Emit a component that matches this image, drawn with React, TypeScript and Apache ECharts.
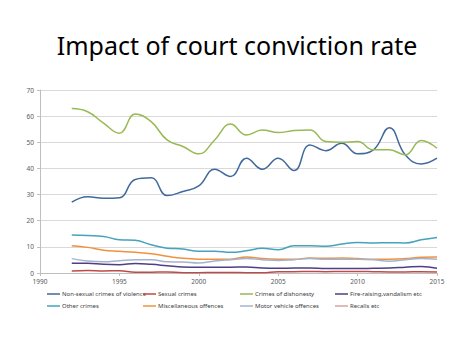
import React, { useEffect, useRef } from "react";
import * as echarts from "echarts";

const years = [1992, 1993, 1994, 1995, 1996, 1997, 1998, 1999, 2000, 2001, 2002, 2003, 2004, 2005, 2006, 2007, 2008, 2009, 2010, 2011, 2012, 2013, 2014, 2015];

const nonSexualViolence = [27.1, 29.2, 28.6, 28.8, 35.8, 36.4, 29.6, 31.2, 33.3, 39.7, 36.9, 43.9, 39.7, 43.9, 39.2, 49.0, 46.8, 49.6, 45.6, 47.1, 55.6, 45.2, 41.7, 43.9];
const sexualCrimes = [0.8, 1.0, 0.8, 0.9, 0.3, 0.3, 0.4, 0.1, 0.1, 0.2, 0.2, 0.1, 0.1, 0.5, 0.5, 0.6, 0.5, 0.6, 0.6, 0.5, 0.4, 0.4, 0.5, 0.4];
const crimesOfDishonesty = [62.9, 61.7, 57.3, 53.5, 60.8, 57.9, 50.9, 48.4, 45.6, 50.9, 57.0, 52.8, 54.7, 53.7, 54.5, 54.7, 50.3, 50.0, 50.3, 47.1, 47.1, 45.2, 50.7, 47.7];
const fireRaising = [3.7, 3.7, 3.3, 3.2, 3.6, 3.3, 2.8, 2.3, 2.2, 2.2, 2.2, 2.3, 1.9, 1.8, 1.9, 1.9, 1.7, 1.7, 1.7, 1.8, 1.9, 2.2, 2.5, 1.8];
const otherCrimes = [14.5, 14.3, 14.0, 12.7, 12.5, 10.8, 9.5, 9.2, 8.3, 8.3, 7.9, 8.5, 9.5, 8.9, 10.4, 10.4, 10.2, 11.1, 11.7, 11.5, 11.6, 11.5, 12.7, 13.6];
const miscOffences = [10.4, 9.8, 8.7, 8.3, 7.9, 7.4, 6.4, 5.6, 5.3, 5.3, 5.3, 6.1, 5.5, 5.3, 5.3, 5.7, 5.6, 5.7, 5.5, 5.3, 5.3, 5.5, 6.0, 6.1];
const motorVehicle = [5.5, 4.6, 4.3, 4.7, 5.1, 5.1, 4.3, 4.2, 3.8, 4.6, 5.1, 5.5, 5.1, 4.8, 5.1, 5.5, 5.3, 5.3, 5.3, 5.1, 4.5, 5.1, 5.5, 5.3];
const recalls: (number | null)[] = [];

const seriesNames = [
  "Non-sexual crimes of violence",
  "Sexual crimes",
  "Crimes of dishonesty",
  "Fire-raising,vandalism etc",
  "Other crimes",
  "Miscellaneous offences",
  "Motor vehicle offences",
  "Recalls etc",
];
const seriesValues = [nonSexualViolence, sexualCrimes, crimesOfDishonesty, fireRaising, otherCrimes, miscOffences, motorVehicle, recalls];
const seriesColors = ["#41699C", "#BE4B48", "#98B954", "#4E3F86", "#46A3BC", "#F0913F", "#A3B3CF", "#D9A3A2"];

const xTicks = [1990, 2015, 5];
const yTicks = [0, 70, 10];

export default function App() {
  const ref = useRef<HTMLDivElement>(null);
  useEffect(() => {
    if (!ref.current) return;
    const chart = echarts.init(ref.current, undefined, { renderer: "svg" });
    const font = "Noto Sans";
    const legendPos = [
      [47, 291], [143, 291], [240, 291], [335, 291],
      [47, 303], [143, 303], [240, 303], [335, 303],
    ];
    chart.setOption({
      animation: false,
      backgroundColor: "#ffffff",
      title: {
        text: "Impact of court conviction rate",
        left: "center",
        top: 27,
        textStyle: { fontFamily: font, fontSize: 25, fontWeight: "normal", color: "#000000" },
      },
      grid: { left: 40, right: 37, top: 90, bottom: 82 },
      legend: seriesNames.map((n, i) => ({
        data: [n],
        left: legendPos[i][0],
        top: legendPos[i][1],
        icon: "rect",
        itemWidth: 13,
        itemHeight: 1.5,
        itemGap: 2,
        padding: 0,
        textStyle: { fontFamily: font, fontSize: 6, color: "#404040", padding: [0, 0, 0, -3] },
      })),
      xAxis: {
        type: "value",
        min: xTicks[0],
        max: xTicks[1],
        interval: xTicks[2],
        axisLine: { show: true, lineStyle: { color: "#BFBFBF" } },
        axisTick: { show: true, length: 3, lineStyle: { color: "#BFBFBF" } },
        splitLine: { show: false },
        axisLabel: { fontFamily: font, fontSize: 6.5, color: "#595959", margin: 5, formatter: (v: number) => String(v) },
      },
      yAxis: {
        type: "value",
        min: yTicks[0],
        max: yTicks[1],
        interval: yTicks[2],
        axisLine: { show: true, lineStyle: { color: "#BFBFBF" } },
        axisTick: { show: true, length: 3, lineStyle: { color: "#BFBFBF" } },
        splitLine: { show: true, lineStyle: { color: "#D9D9D9" } },
        axisLabel: { fontFamily: font, fontSize: 6.5, color: "#595959", margin: 6 },
      },
      series: seriesNames.map((n, i) => ({
        name: n,
        type: "line",
        smooth: 0.45,
        showSymbol: false,
        symbol: "none",
        color: seriesColors[i],
        lineStyle: { width: 1.5, color: seriesColors[i] },
        data: seriesValues[i].map((v, j) => [years[j], v]),
      })),
    });
    return () => chart.dispose();
  }, []);
  return <div ref={ref} style={{ width: 474, height: 355, position: "absolute", left: 0, top: 0 }} />;
}
